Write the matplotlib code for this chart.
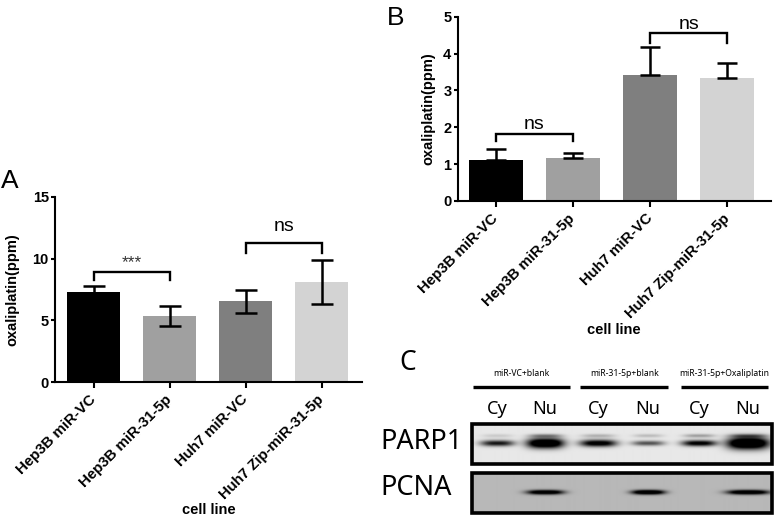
import matplotlib.pyplot as plt
from matplotlib.patches import Rectangle
import numpy as np

plt.rcParams['font.family'] = ['Liberation Sans', 'DejaVu Sans']

# data
cells = ['Hep3B miR-VC', 'Hep3B miR-31-5p', 'Huh7 miR-VC', 'Huh7 Zip-miR-31-5p']
bar_colors = ['#000000', '#a0a0a0', '#7f7f7f', '#d3d3d3']

a_mean = [7.32, 5.34, 6.54, 8.11]
a_err = [0.46, 0.80, 0.95, 1.80]

b_mean = [1.11, 1.16, 3.41, 3.35]
b_err = [0.29, 0.13, 0.76, 0.40]

# western blot (panel C)
groups = ['miR-VC+blank', 'miR-31-5p+blank', 'miR-31-5p+Oxaliplatin']
lanes = ['Cy', 'Nu', 'Cy', 'Nu', 'Cy', 'Nu']
parp1_main = [0.85, 1.35, 1.05, 0.6, 1.0, 1.45]
parp1_upper = [0.12, 0.35, 0.22, 0.18, 0.3, 0.4]
pcna = [0.0, 1.0, 0.0, 1.1, 0.0, 1.05]

W, H = 778, 517
fig = plt.figure(figsize=(W / 100, H / 100), dpi=100)

# pixel-space overlay for panel letters and blot
ax_px = fig.add_axes([0, 0, 1, 1])
ax_px.set_xlim(0, W)
ax_px.set_ylim(H, 0)
ax_px.axis('off')


def px_axes(x0, y0, x1, y1):
    return fig.add_axes([x0 / W, 1 - y1 / H, (x1 - x0) / W, (y1 - y0) / H])


def bar_panel(ax, mean, err, ymax, yticks, both_err, capsize, xlim):
    x = np.arange(len(cells))
    yerr = err if both_err else [np.zeros(len(err)), err]
    ax.bar(x, mean, width=0.7, color=bar_colors, zorder=2)
    ax.errorbar(x, mean, yerr=yerr, fmt='none', ecolor='black', elinewidth=1.8,
                capsize=capsize, capthick=1.8, zorder=3)
    ax.set_xlim(*xlim)
    ax.set_ylim(0, ymax)
    ax.set_yticks(yticks)
    ax.set_xticks(x)
    ax.set_xticklabels(cells, rotation=45, ha='right', va='center',
                       rotation_mode='anchor', fontsize=10.8, fontweight='bold')
    for lab in ax.get_yticklabels():
        lab.set_fontsize(10.5)
        lab.set_fontweight('bold')
    for s in ['top', 'right']:
        ax.spines[s].set_visible(False)
    for s in ['left', 'bottom']:
        ax.spines[s].set_linewidth(1.5)
    ax.tick_params(axis='y', direction='out', length=3, width=1.5, pad=1.5)
    ax.tick_params(axis='x', direction='out', length=4, width=1.5, pad=7)
    ax.set_facecolor('none')


def bracket(ax, x0, x1, ylow, yhigh, text, ty, size, color='black'):
    ax.plot([x0, x0, x1, x1], [ylow, yhigh, yhigh, ylow], color='black', lw=1.7,
            solid_joinstyle='miter', zorder=4)
    ax.text((x0 + x1) / 2, ty, text, ha='center', va='center', fontsize=size, color=color)


# panel A
ax_a = px_axes(55, 197, 362, 382)
bar_panel(ax_a, a_mean, a_err, 15, [0, 5, 10, 15], True, 8, (-0.51, 3.53))
bracket(ax_a, 0, 1, 8.27, 8.95, '***', 9.65, 12.5, '#333333')
bracket(ax_a, 2, 3, 10.5, 11.26, 'ns', 12.6, 14)
ax_a.set_xlabel('cell line', fontsize=10.5, fontweight='bold', va='center')
ax_a.xaxis.set_label_coords(0.5, -0.69)
ax_a.set_ylabel('oxaliplatin(ppm)', fontsize=10.5, fontweight='bold', va='center')
ax_a.yaxis.set_label_coords(-0.138, 0.5)

# panel B
ax_b = px_axes(457.7, 16.7, 770.7, 201)
bar_panel(ax_b, b_mean, b_err, 5, [0, 1, 2, 3, 4, 5], False, 7.5, (-0.49, 3.56))
bracket(ax_b, 0, 1, 1.64, 1.81, 'ns', 2.08, 14)
bracket(ax_b, 2, 3, 4.30, 4.55, 'ns', 4.8, 14)
ax_b.set_xlabel('cell line', fontsize=10.5, fontweight='bold', va='center')
ax_b.xaxis.set_label_coords(0.5, -0.70)
ax_b.set_ylabel('oxaliplatin(ppm)', fontsize=10.5, fontweight='bold', va='center')
ax_b.yaxis.set_label_coords(-0.095, 0.5)

# panel letters
ax_px.text(10, 181, 'A', fontsize=19, ha='center', va='center')
ax_px.text(396, 18, 'B', fontsize=19, ha='center', va='center')
ax_px.text(408, 363, 'C', fontsize=19, ha='center', va='center',
           family=['Noto Sans', 'DejaVu Sans'])

# panel C layout
blot_font = ['Noto Sans', 'DejaVu Sans']
lane_x = [497, 545, 598, 648, 699, 748]
lane_w = [34, 37, 37, 33, 35, 42]
group_spans = [(472.7, 570), (580, 668.3), (680.7, 768.3)]
box_x0, box_x1 = 471.7, 771.7
parp_box = (424, 464)
pcna_box = (473, 513)

for (gx0, gx1), g in zip(group_spans, groups):
    ax_px.plot([gx0, gx1], [387.3, 387.3], color='black', lw=2.4, solid_capstyle='butt')
    ax_px.text((gx0 + gx1) / 2, 374, g, fontsize=6.2, ha='center', va='center',
               family=blot_font)
for lx, lab in zip(lane_x, lanes):
    ax_px.text(lx, 409, lab, fontsize=13, ha='center', va='center', family=blot_font)

ax_px.text(380, 442, 'PARP1', fontsize=19.5, ha='left', va='center', family=blot_font)
ax_px.text(380, 488, 'PCNA', fontsize=19.5, ha='left', va='center', family=blot_font)

# blot images built from band intensities
xs = np.arange(box_x0, box_x1, 0.5)


def blot(y0, y1, bg, bands):
    ys = np.arange(y0, y1, 0.5)
    X, Y = np.meshgrid(xs, ys)
    img = np.full(X.shape, bg)
    for cx, w, cy, h, k in bands:
        img -= k * np.exp(-np.abs((X - cx) / (w / 2)) ** 3) * np.exp(-((Y - cy) / (h / 2)) ** 2)
    img = np.clip(img, 0, 1)
    ax_px.imshow(img, cmap='gray', vmin=0, vmax=1, extent=(box_x0, box_x1, y1, y0),
                 aspect='auto', interpolation='bilinear', zorder=1)
    ax_px.add_patch(Rectangle((box_x0, y0), box_x1 - box_x0, y1 - y0, fill=False,
                              ec='black', lw=2.6, zorder=2))


parp_h = [6, 10, 7, 5, 6, 12]
parp_bands = []
for i in range(6):
    parp_bands.append((lane_x[i], lane_w[i], 443, parp_h[i], parp1_main[i]))
    parp_bands.append((lane_x[i], lane_w[i] * 0.9, 435.5, 3.5, parp1_upper[i]))
blot(parp_box[0], parp_box[1], 0.91, parp_bands)

pcna_bands = [(lane_x[i], lane_w[i], 492, 4.5, pcna[i]) for i in range(6)]
blot(pcna_box[0], pcna_box[1], 0.72, pcna_bands)

ax_px.set_xlim(0, W)
ax_px.set_ylim(H, 0)

fig.savefig('out.png', dpi=100)
